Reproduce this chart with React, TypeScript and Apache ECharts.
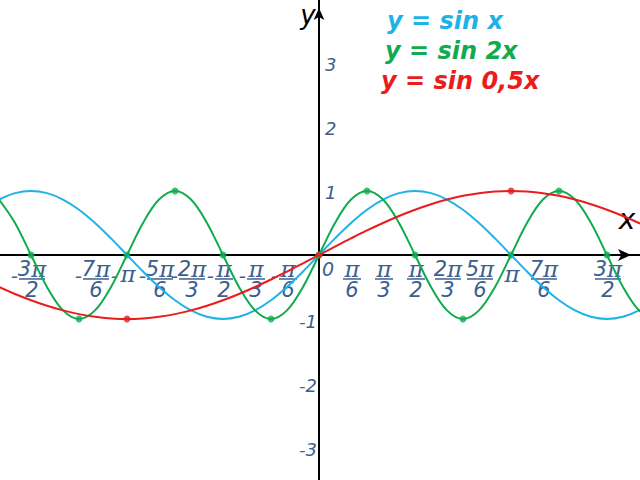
import React, { useEffect, useRef } from "react";
import * as echarts from "echarts";

// sample positions (radians) and curve values
const xSamples = [
  -5.236, -4.974, -4.712, -4.451, -4.189, -3.927, -3.665, -3.403, -3.142, -2.88,
  -2.618, -2.356, -2.094, -1.833, -1.571, -1.309, -1.047, -0.785, -0.524, -0.262,
  0, 0.262, 0.524, 0.785, 1.047, 1.309, 1.571, 1.833, 2.094, 2.356,
  2.618, 2.88, 3.142, 3.403, 3.665, 3.927, 4.189, 4.451, 4.712, 4.974,
  5.236, 5.498,
];
const sinX = [
  0.866, 0.966, 1, 0.966, 0.866, 0.707, 0.5, 0.259, 0, -0.259,
  -0.5, -0.707, -0.866, -0.966, -1, -0.966, -0.866, -0.707, -0.5, -0.259,
  0, 0.259, 0.5, 0.707, 0.866, 0.966, 1, 0.966, 0.866, 0.707,
  0.5, 0.259, 0, -0.259, -0.5, -0.707, -0.866, -0.966, -1, -0.966,
  -0.866, -0.707,
];
const sin2X = [
  0.866, 0.5, 0, -0.5, -0.866, -1, -0.866, -0.5, 0, 0.5,
  0.866, 1, 0.866, 0.5, 0, -0.5, -0.866, -1, -0.866, -0.5,
  0, 0.5, 0.866, 1, 0.866, 0.5, 0, -0.5, -0.866, -1,
  -0.866, -0.5, 0, 0.5, 0.866, 1, 0.866, 0.5, 0, -0.5,
  -0.866, -1,
];
const sinHalfX = [
  -0.5, -0.609, -0.707, -0.793, -0.866, -0.924, -0.966, -0.991, -1, -0.991,
  -0.966, -0.924, -0.866, -0.793, -0.707, -0.609, -0.5, -0.383, -0.259, -0.131,
  0, 0.131, 0.259, 0.383, 0.5, 0.609, 0.707, 0.793, 0.866, 0.924,
  0.966, 0.991, 1, 0.991, 0.966, 0.924, 0.866, 0.793, 0.707, 0.609,
  0.5, 0.383,
];
const greenDotX = [-4.712, -3.927, -3.142, -2.356, -1.571, -0.785, 0, 0.785, 1.571, 2.356, 3.142, 3.927, 4.712];
const greenDotY = [0, -1, 0, 1, 0, -1, 0, 1, 0, -1, 0, 1, 0];
const redDotX = [-3.142, 0, 3.142];
const redDotY = [-1, 0, 1];

const xTickValues = [-4.712, -3.665, -3.142, -2.618, -2.094, -1.571, -1.047, -0.524, 0.524, 1.047, 1.571, 2.094, 2.618, 3.142, 3.665, 4.712];
const xTickNum = ["3π", "7π", "π", "5π", "2π", "π", "π", "π", "π", "π", "π", "2π", "5π", "π", "7π", "3π"];
const xTickDen = ["2", "6", "", "6", "3", "2", "3", "6", "6", "3", "2", "3", "6", "", "6", "2"];
const yTickValues = [-3, -2, -1, 1, 2, 3];
const seriesNames = ["y = sin x", "y = sin 2x", "y = sin 0,5x"];

const BLUE = "#1db2e8";
const GREEN = "#10ab4f";
const RED = "#ea1c1c";
const LABEL = "#3d5e8f";
const FONT = "DejaVu Sans";

export default function App() {
  const ref = useRef<HTMLDivElement>(null);
  useEffect(() => {
    const chart = echarts.init(ref.current!, null, { renderer: "svg" });
    const pairs = (xs: number[], ys: number[]) => xs.map((x, i) => [x, ys[i]]);
    const lineSeries = (name: string, ys: number[], color: string) => ({
      name,
      type: "line",
      data: pairs(xSamples, ys),
      showSymbol: false,
      smooth: 0.35,
      lineStyle: { color, width: 2 },
      itemStyle: { color },
      silent: true,
    });
    chart.setOption({
      animation: false,
      grid: { left: 0, right: 0, top: 0, bottom: 0, containLabel: false },
      xAxis: {
        type: "value",
        min: -5.2197,
        max: 5.2524,
        axisLine: {
          show: true,
          onZero: true,
          symbol: ["none", "arrow"],
          symbolSize: [9, 13],
          symbolOffset: [0, -9],
          lineStyle: { color: "#000", width: 2 },
        },
        axisTick: { show: false },
        axisLabel: { show: false },
        splitLine: { show: false },
      },
      yAxis: {
        type: "value",
        min: -3.516,
        max: 3.984,
        axisLine: {
          show: true,
          onZero: true,
          symbol: ["none", "arrow"],
          symbolSize: [8, 12],
          symbolOffset: [0, -8],
          lineStyle: { color: "#000", width: 2 },
        },
        axisTick: { show: false },
        axisLabel: { show: false },
        splitLine: { show: false },
      },
      series: [
        lineSeries(seriesNames[0], sinX, BLUE),
        lineSeries(seriesNames[1], sin2X, GREEN),
        lineSeries(seriesNames[2], sinHalfX, RED),
        {
          type: "scatter",
          data: pairs(greenDotX, greenDotY),
          symbolSize: 7,
          itemStyle: { color: GREEN },
          silent: true,
        },
        {
          type: "scatter",
          data: pairs(redDotX, redDotY),
          symbolSize: 7,
          itemStyle: { color: RED },
          silent: true,
        },
      ],
    });

    const toPx = (x: number, y: number) => chart.convertToPixel({ gridIndex: 0 }, [x, y]) as number[];
    const [ox, oy] = toPx(0, 0);
    const graphics: any[] = [];
    const rich = {
      d: { fontFamily: FONT, fontStyle: "italic", fontSize: 21, fill: LABEL, color: LABEL },
      p: { fontFamily: "DejaVu Serif", fontStyle: "italic", fontSize: 23, fill: LABEL, color: LABEL },
    };

    xTickValues.forEach((v, i) => {
      const [px] = toPx(v, 0);
      const num = xTickNum[i];
      const den = xTickDen[i];
      const cx = px + 1;
      const barW = num.length > 1 ? 26 : 18;
      const numRich = num.length > 1 ? `{d|${num[0]}}{p|π}` : `{p|π}`;
      if (den) {
        graphics.push({
          type: "text", x: cx, y: oy + 14,
          style: { text: numRich, rich, font: `italic 21px ${FONT}`, fill: LABEL, align: "center", verticalAlign: "middle" },
        });
        graphics.push({
          type: "line",
          shape: { x1: cx - barW / 2, y1: oy + 24, x2: cx + barW / 2, y2: oy + 24 },
          style: { stroke: LABEL, lineWidth: 1.5 },
        });
        graphics.push({
          type: "text", x: cx, y: oy + 35,
          style: { text: den, fill: LABEL, font: `italic 21px ${FONT}`, align: "center", verticalAlign: "middle" },
        });
      } else {
        graphics.push({
          type: "text", x: cx, y: oy + 19,
          style: { text: numRich, rich, font: `italic 21px ${FONT}`, fill: LABEL, align: "center", verticalAlign: "middle" },
        });
      }
      if (v < 0) {
        graphics.push({
          type: "text", x: cx - barW / 2 - 1, y: oy + 21,
          style: { text: "-", fill: LABEL, font: `italic 20px ${FONT}`, align: "right", verticalAlign: "middle" },
        });
      }
    });

    graphics.push({
      type: "text", x: ox + 3, y: oy + 14,
      style: { text: "0", fill: LABEL, font: `italic 19px ${FONT}`, align: "left", verticalAlign: "middle" },
    });

    yTickValues.forEach((v) => {
      const [, py] = toPx(0, v);
      if (v > 0) {
        graphics.push({
          type: "text", x: ox + 6, y: py + 2,
          style: { text: String(v), fill: LABEL, font: `italic 18px ${FONT}`, align: "left", verticalAlign: "middle" },
        });
      } else {
        graphics.push({
          type: "text", x: ox - 2, y: py + 3,
          style: { text: "-" + String(-v), fill: LABEL, font: `italic 18px ${FONT}`, align: "right", verticalAlign: "middle" },
        });
      }
    });

    graphics.push({
      type: "text", x: ox - 11, y: 15,
      style: { text: "y", fill: "#000", font: `italic 26px ${FONT}`, align: "center", verticalAlign: "middle" },
    });
    graphics.push({
      type: "text", x: 627, y: 219,
      style: { text: "x", fill: "#000", font: `italic 28px ${FONT}`, align: "center", verticalAlign: "middle" },
    });

    const legendX = [387, 385, 381];
    const legendY = [21, 51, 81];
    const legendC = [BLUE, GREEN, RED];
    seriesNames.forEach((n, i) => {
      graphics.push({
        type: "text", x: legendX[i], y: legendY[i],
        style: { text: n, fill: legendC[i], font: `italic bold 24px ${FONT}`, align: "left", verticalAlign: "middle" },
      });
    });

    chart.setOption({ graphic: graphics });
    return () => chart.dispose();
  }, []);
  return (
    <div
      ref={ref}
      style={{ position: "fixed", left: 0, top: 0, width: 640, height: 480, background: "#fff" }}
    />
  );
}
